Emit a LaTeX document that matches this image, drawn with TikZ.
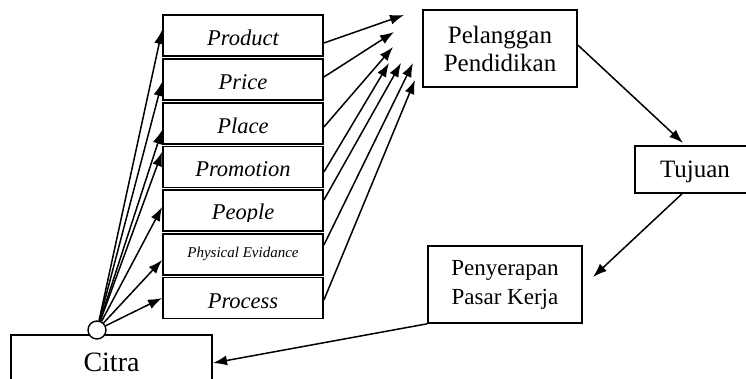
\documentclass[tikz,border=0pt]{standalone}
\usepackage{fontspec}
\setmainfont{Liberation Serif}
\usetikzlibrary{arrows.meta}
\begin{document}
\begin{tikzpicture}[x=1pt,y=-1pt,
  mixbox/.style={draw, line width=1.8pt, minimum width=160pt, minimum height=41pt, inner sep=0pt,
    font=\fontsize{22.5}{24}\selectfont\itshape, text height=20pt, text depth=0pt},
  bigbox/.style={draw, line width=1.6pt, inner sep=0pt, align=center},
  arr/.style={line width=1.5pt, -{Latex[length=14pt,width=10pt]}},
]
\useasboundingbox (0,0) rectangle (746,379);
\clip (0,0) rectangle (746,379);

% 7P boxes
\node[mixbox] (product) at (243,35.5) {Product};
\node[mixbox] (price) at (243,79.5) {Price};
\node[mixbox] (place) at (243,123.5) {Place};
\node[mixbox] (promotion) at (243,167) {Promotion};
\node[mixbox] (people) at (243,210.5) {};
\begin{scope}
  \clip (165,192) rectangle (321,221.5);
  \node[font=\fontsize{22.5}{24}\selectfont\itshape, inner sep=0pt, anchor=base] (peopletext) at (243,220) {People};
\end{scope}
\node[mixbox, font=\fontsize{15}{16}\selectfont\itshape, text height=8pt, text depth=3pt] (physical) at (243,254.5) {Physical Evidance};
\node[mixbox] (process) at (243,298) {Process};

% other boxes
\node[bigbox, minimum width=154pt, minimum height=77pt, font=\fontsize{25}{28}\selectfont] (pelanggan) at (500,48.5) {Pelanggan\\Pendidikan};
\node[bigbox, minimum width=120pt, minimum height=47pt, font=\fontsize{25}{28}\selectfont, text height=17pt, text depth=0pt] (tujuan) at (695,169.5) {Tujuan};
\node[bigbox, minimum width=154pt, minimum height=77pt, font=\fontsize{23}{29}\selectfont] (penyerapan) at (505,284.5) {Penyerapan\\Pasar Kerja};
\node[bigbox, minimum width=201pt, minimum height=62pt, font=\fontsize{28}{30}\selectfont, text height=18pt, text depth=8pt] (citra) at (111.5,366) {Citra};
\node[draw, circle, fill=white, line width=1.4pt, minimum size=18pt, inner sep=0pt] (hub) at (97,330) {};

% free arrow ends
\coordinate (t1) at (404,15);
\coordinate (t2) at (394,32);
\coordinate (t3) at (393,47);
\coordinate (t4) at (389,63);
\coordinate (t5) at (401,63);
\coordinate (t6) at (413,63);
\coordinate (t7) at (415,80);
\coordinate (tujin) at (683,143);
\coordinate (penin) at (593,277);
\coordinate (citrain) at (213,363);

% hub to 7P
\draw[arr] (hub) -- ([yshift=5.5pt]product.west);
\draw[arr] (hub) -- ([yshift=-2.5pt]price.west);
\draw[arr] (hub) -- ([yshift=-6.5pt]place.west);
\draw[arr] (hub) -- ([yshift=15pt]promotion.west);
\draw[arr] (hub) -- ([yshift=3.5pt]people.west);
\draw[arr] (hub) -- ([yshift=-5.5pt]physical.west);
\draw[arr] (hub) -- (process.west);

% 7P to Pelanggan
\draw[arr] ([yshift=-7.5pt]product.east) -- (t1);
\draw[arr] ([yshift=2.5pt]price.east) -- (t2);
\draw[arr] ([yshift=-3.5pt]place.east) -- (t3);
\draw[arr] ([yshift=-5pt]promotion.east) -- (t4);
\draw[arr] ([yshift=10.5pt]people.east) -- (t5);
\draw[arr] ([yshift=9.5pt]physical.east) -- (t6);
\draw[arr] ([yshift=-2pt]process.east) -- (t7);

% cycle
\draw[arr] ([yshift=3.5pt]pelanggan.east) -- (tujin);
\draw[arr] ([xshift=-13pt]tujuan.south) -- (penin);
\draw[arr] (penyerapan.south west) -- (citrain);
\end{tikzpicture}
\end{document}
